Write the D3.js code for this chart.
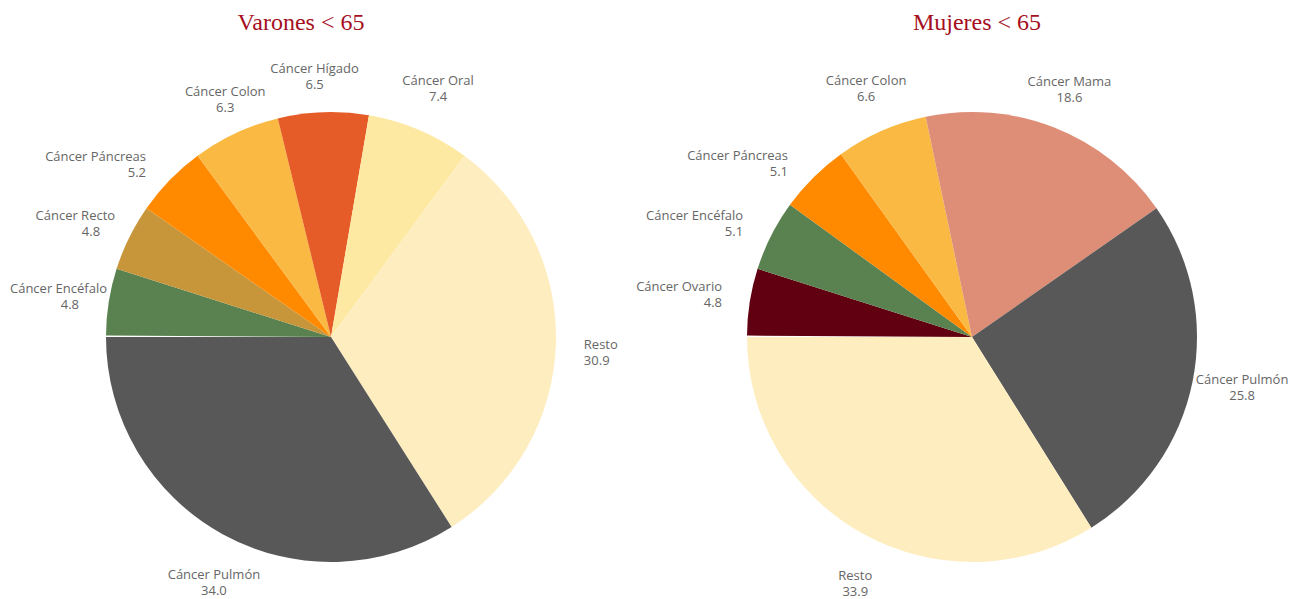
<!DOCTYPE html>
<html>
<head>
<meta charset="utf-8">
<script src="https://cdn.jsdelivr.net/npm/d3@7"></script>
<style>
  body { margin: 0; background: #fff; }
  .title { font-family: "Liberation Serif", serif; font-size: 24px; fill: #a50f1e; }
  .lbl { font-family: "Open Sans", sans-serif; font-size: 13px; fill: #666666; }
</style>
</head>
<body>
<div id="chart"></div>
<script>
// data
var varonesCats = ['Cáncer Encéfalo', 'Cáncer Recto', 'Cáncer Páncreas', 'Cáncer Colon',
    'Cáncer Hígado', 'Cáncer Oral', 'Resto', 'Cáncer Pulmón'];
var varonesVals = [4.8, 4.8, 5.2, 6.3, 6.5, 7.4, 30.9, 34.0];
var varonesColors = ['#5a8250', '#c8963a', '#ff8a00', '#fab942', '#e55c28', '#fde9a1', '#feedbf', '#585858'];

var mujeresCats = ['Cáncer Ovario', 'Cáncer Encéfalo', 'Cáncer Páncreas', 'Cáncer Colon',
    'Cáncer Mama', 'Cáncer Pulmón', 'Resto'];
var mujeresVals = [4.8, 5.1, 5.1, 6.6, 18.6, 25.8, 33.9];
var mujeresColors = ['#600010', '#5a8250', '#ff8a00', '#fab942', '#de8d76', '#585858', '#feedbf'];

// layout
var svgWidth = 1300;
var svgHeight = 599;
var radius = 225;
var lineH = 16;

// label nudges [dx, dy, anchor, value dx] to follow the reference placement
var varonesNudge = {
    'Cáncer Encéfalo': [16, -3, null, -28], 'Cáncer Recto': [2, -6, null, -15], 'Cáncer Páncreas': [-11, -3],
    'Cáncer Colon': [-3, -1], 'Cáncer Hígado': [-8, -1.5], 'Cáncer Oral': [12, -8.6],
    'Resto': [10, 7.5], 'Cáncer Pulmón': [0, 17]
};
var mujeresNudge = {
    'Cáncer Ovario': [-10, -4.5], 'Cáncer Encéfalo': [-12, -4.4], 'Cáncer Páncreas': [-12.7, -1],
    'Cáncer Colon': [-8, -10], 'Cáncer Mama': [8, -6], 'Cáncer Pulmón': [32, 2, 'middle'],
    'Resto': [1, 17.5]
};

var svg = d3.select('#chart').append('svg')
    .attr('width', svgWidth)
    .attr('height', svgHeight);

function drawPie(cx, cy, title, titleX, cats, vals, colors, nudge) {
    svg.append('text')
        .attr('class', 'title')
        .attr('x', titleX)
        .attr('y', 30)
        .attr('text-anchor', 'middle')
        .text(title);

    var total = d3.sum(vals);
    // last slice ends at 9 o'clock; values are % of 100 so a tiny gap remains
    var end = Math.PI * 1.5;
    var pie = d3.pie().sort(null).value(d => d)
        .startAngle(end - 2 * Math.PI * total / 100)
        .endAngle(end);

    var arcs = pie(vals);
    var arc = d3.arc().innerRadius(0).outerRadius(radius);

    var g = svg.append('g').attr('transform', `translate(${cx}, ${cy})`);

    g.selectAll('path')
        .data(arcs)
        .enter()
        .append('path')
        .attr('d', arc)
        .attr('fill', (d, i) => colors[i]);

    var r = radius + 18;
    arcs.forEach(function(d, i) {
        var mid = (d.startAngle + d.endAngle) / 2;
        var s = Math.sin(mid), c = Math.cos(mid);
        var ax = r * s, ay = -r * c;
        var anchor, blockC;
        if (Math.abs(s) >= 0.6) {
            anchor = s < 0 ? 'end' : 'start';
            blockC = ay;
        } else {
            anchor = 'middle';
            blockC = c > 0 ? ay - lineH : ay + lineH;
        }
        var n = nudge[cats[i]] || [0, 0];
        if (n[2]) anchor = n[2];
        var x = ax + n[0];
        blockC += n[1];

        g.append('text')
            .attr('class', 'lbl')
            .attr('text-anchor', anchor)
            .attr('x', x)
            .attr('y', blockC - lineH / 2)
            .attr('dy', '0.35em')
            .text(cats[i]);
        g.append('text')
            .attr('class', 'lbl')
            .attr('text-anchor', anchor)
            .attr('x', x + (n[3] || 0))
            .attr('y', blockC + lineH / 2)
            .attr('dy', '0.35em')
            .text(d3.format('.1f')(vals[i]));
    });
}

drawPie(331, 337, 'Varones < 65', 301, varonesCats, varonesVals, varonesColors, varonesNudge);
drawPie(972, 337, 'Mujeres < 65', 977, mujeresCats, mujeresVals, mujeresColors, mujeresNudge);
</script>
</body>
</html>
